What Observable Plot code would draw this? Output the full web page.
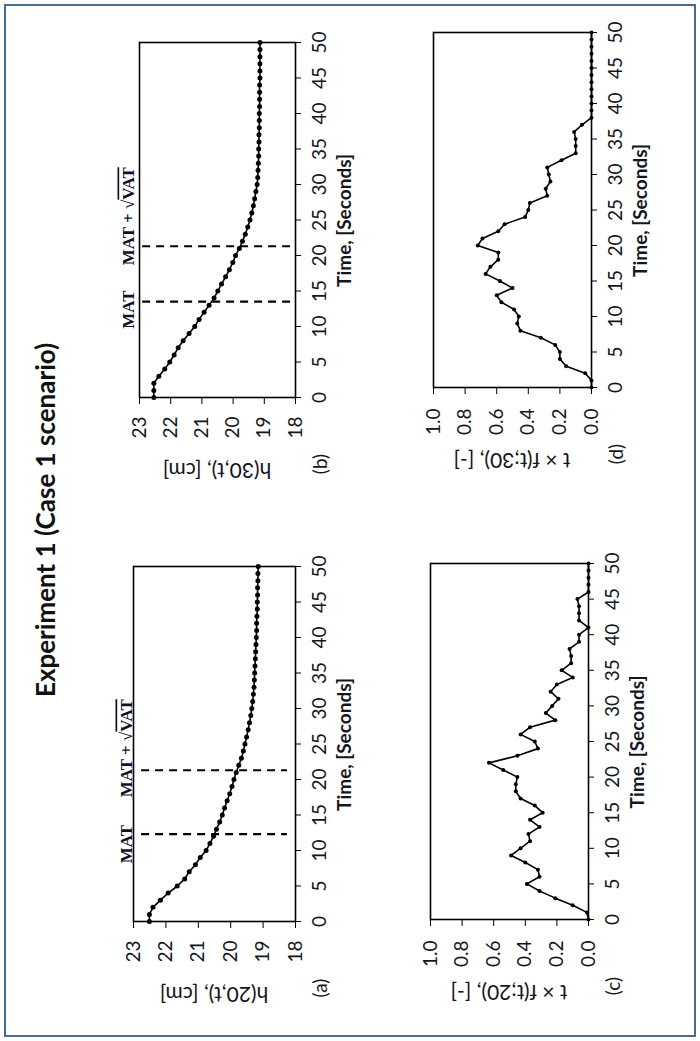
<!DOCTYPE html>
<html><head><meta charset="utf-8">
<script src="https://cdn.jsdelivr.net/npm/d3@7"></script>
<script src="https://cdn.jsdelivr.net/npm/@observablehq/plot@0.6"></script>
<style>
html,body{margin:0;padding:0;background:#fff;}
#page{position:relative;width:700px;height:1041px;overflow:hidden;background:#fff;}
#border{position:absolute;left:4px;top:4px;width:692px;height:1033px;border:2px solid #4a6a90;box-sizing:border-box;}
#land{position:absolute;left:0;top:0;width:1041px;height:700px;transform-origin:0 0;transform:translate(0px,1041px) rotate(-90deg);font-family:Lato,"Open Sans",sans-serif;color:#151520;}
.abs{position:absolute;white-space:nowrap;}
.c{transform:translate(-50%,-50%);}
.v{transform:translate(-50%,-50%) rotate(-90deg);}
</style></head>
<body><div id="page"><div id="border"></div><div id="land"></div></div>
<script>
// ---- data ----
const time = [0,1,2,3,4,5,6,7,8,9,10,11,12,13,14,15,16,17,18,19,20,21,22,23,24,25,26,27,28,29,30,31,32,33,34,35,36,37,38,39,40,41,42,43,44,45,46,47,48,49,50];
const hA = [22.51,22.51,22.40,22.17,21.93,21.65,21.42,21.28,21.09,20.94,20.76,20.64,20.53,20.44,20.34,20.26,20.19,20.11,20.03,19.96,19.90,19.83,19.75,19.67,19.61,19.56,19.51,19.46,19.42,19.38,19.35,19.32,19.30,19.28,19.27,19.26,19.25,19.24,19.23,19.22,19.21,19.20,19.20,19.19,19.18,19.18,19.17,19.17,19.16,19.16,19.15];
const hB = [22.54,22.54,22.54,22.38,22.19,22.03,21.89,21.76,21.60,21.41,21.23,21.09,20.93,20.77,20.61,20.49,20.37,20.24,20.12,20.01,19.92,19.80,19.70,19.61,19.53,19.46,19.40,19.35,19.31,19.27,19.23,19.21,19.20,19.19,19.18,19.18,19.17,19.17,19.16,19.16,19.16,19.15,19.15,19.15,19.15,19.14,19.14,19.14,19.14,19.14,19.14];
const fC = [0,0.01,0.10,0.21,0.31,0.39,0.31,0.32,0.40,0.49,0.43,0.37,0.38,0.31,0.37,0.29,0.34,0.43,0.46,0.46,0.45,0.54,0.63,0.45,0.32,0.34,0.43,0.37,0.21,0.27,0.23,0.19,0.24,0.20,0.10,0.17,0.11,0.11,0.12,0.06,0.06,0.00,0.06,0.06,0.06,0.07,0,0,0,0,0];
const fD = [0,0,0.04,0.16,0.20,0.20,0.23,0.32,0.45,0.47,0.46,0.49,0.57,0.60,0.50,0.58,0.67,0.64,0.59,0.59,0.72,0.69,0.59,0.55,0.42,0.40,0.39,0.28,0.29,0.26,0.27,0.28,0.19,0.10,0.10,0.10,0.11,0.06,0,0,0,0,0,0,0,0,0,0,0,0,0];
const timeTicks = [0,5,10,15,20,25,30,35,40,45,50];
const hTicks = [18,19,20,21,22,23];
const fTicks = [0,0.2,0.4,0.6,0.8,1.0];
const matA = [12.3, 21.3];
const matB = [13.5, 21.3];
const annLabels = ["MAT", "MAT + √VAT"];
const title = "Experiment 1 (Case 1 scenario)";
const xLabel = "Time, [Seconds]";
const yLabels = ["h(20,t), [cm]", "h(30,t), [cm]", "t × f(t;20), [-]", "t × f(t;30), [-]"];
const panelTags = ["(a)", "(b)", "(c)", "(d)"];

// ---- layout ----
const land = document.getElementById("land");
const ML = 70, MR = 20, MT = 40, MB = 45;
const INK = "#151520";

function addDiv(text, X, Y, cls, style) {
  const d = document.createElement("div");
  d.className = "abs " + cls;
  d.textContent = text;
  d.style.left = X + "px"; d.style.top = Y + "px";
  Object.assign(d.style, style || {});
  land.appendChild(d);
  return d;
}

function panel(cfg) {
  const [X0, X1, Y0, Y1] = cfg.frame;
  const rows = time.map((t, i) => ({t, v: cfg.values[i]}));
  const marks = [
    Plot.frame({stroke: "black", strokeWidth: 1.6}),
    Plot.axisX({ticks: timeTicks, tickSize: 6, tickPadding: 11, label: null, fontSize: 19, stroke: "black"}),
    Plot.axisY({ticks: cfg.yTicks, tickSize: 6, tickPadding: cfg.yPad, label: null, fontSize: 19, tickFormat: cfg.fmt, stroke: "black"})
  ];
  if (cfg.mat) {
    marks.push(Plot.ruleX(cfg.mat, {x: d => d, y1: cfg.dashY[0], y2: cfg.dashY[1], stroke: "black", strokeWidth: 2.2, strokeDasharray: "8,6"}));
    const ann = cfg.mat.map((m, i) => ({t: m, label: annLabels[i], dx: cfg.annDx[i]}));
    ann.forEach(a => marks.push(Plot.text([a], {x: "t", frameAnchor: "top", text: "label", dx: a.dx, dy: -cfg.annDy, lineAnchor: "bottom", fontFamily: "'Liberation Serif', serif", fontWeight: "bold", fontSize: 17, fill: "#101028"})));
  }
  marks.push(Plot.line(rows, {x: "t", y: "v", stroke: "black", strokeWidth: 1.6}));
  marks.push(Plot.dot(rows, {x: "t", y: "v", r: cfg.r, fill: "black", stroke: "none"}));
  const svg = Plot.plot({
    width: X1 - X0 + ML + MR,
    height: Y1 - Y0 + MT + MB,
    marginLeft: ML, marginRight: MR, marginTop: MT, marginBottom: MB,
    x: {domain: [0, 50]},
    y: {domain: cfg.yDomain},
    style: {fontFamily: "Lato, 'Open Sans', sans-serif", color: INK, background: "transparent", overflow: "visible"},
    marks
  });
  // overline on VAT
  d3.select(svg).selectAll("text").each(function() {
    if (this.textContent === "MAT + √VAT") {
      const sel = d3.select(this);
      sel.text(null);
      sel.append("tspan").text("MAT + √");
      sel.append("tspan").text("VAT").style("text-decoration", "overline");
    }
  });
  svg.style.position = "absolute";
  svg.style.left = (X0 - ML) + "px";
  svg.style.top = (Y0 - MT) + "px";
  land.appendChild(svg);

  const cx = (X0 + X1) / 2, cy = (Y0 + Y1) / 2;
  addDiv(yLabels[cfg.idx], X0 - 73, cy, "v", {fontSize: "21px"});
  addDiv(xLabel, cx, Y1 + 48, "c", {fontSize: "19px", fontWeight: "700"});
  addDiv(panelTags[cfg.idx], X0 - 66, Y1 + 24, "c", {fontSize: "19px"});
}

addDiv(title, 521, 45, "c", {fontSize: "26px", fontWeight: "700", color: "#111"});

panel({idx: 0, frame: [119, 474, 133, 295], values: hA, yDomain: [18, 23], yTicks: hTicks, fmt: d3.format("d"), yPad: 13, r: 2.5, mat: matA, dashY: [22.75, 18.25], annDx: [-10, 22], annDy: 2});
panel({idx: 1, frame: [643, 998, 139, 295], values: hB, yDomain: [18, 23], yTicks: hTicks, fmt: d3.format("d"), yPad: 13, r: 2.5, mat: matB, dashY: [22.9, 18.05], annDx: [-8, 30], annDy: 6});
panel({idx: 2, frame: [121, 477, 430, 588], values: fC, yDomain: [0, 1], yTicks: fTicks, fmt: d3.format(".1f"), yPad: 15, r: 2});
panel({idx: 3, frame: [653, 1008, 433, 591], values: fD, yDomain: [0, 1], yTicks: fTicks, fmt: d3.format(".1f"), yPad: 15, r: 2});
</script>
</body></html>
